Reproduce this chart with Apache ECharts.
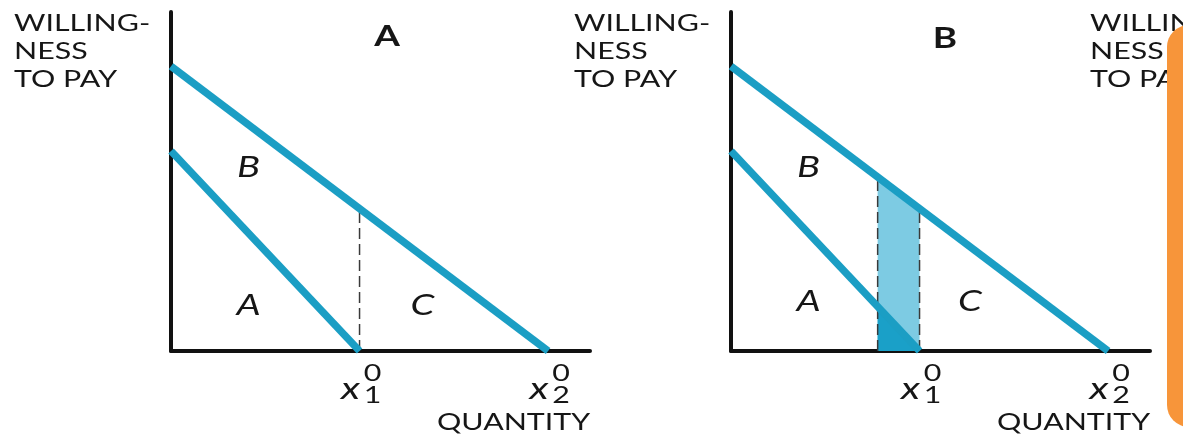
<!DOCTYPE html>
<html>
<head>
<meta charset="utf-8">
<script src="https://cdn.jsdelivr.net/npm/echarts@6/dist/echarts.min.js"></script>
<style>
  html, body { margin: 0; padding: 0; background: #fff; }
  #main { width: 1183px; height: 440px; }
</style>
</head>
<body>
<div id="main"></div>
<script>
// demand curves: [price intercept, quantity intercept]
var demand1 = [59, 45];
var demand2 = [84, 90];
// quantities labelled on the x axis: [quantity, subscript]
var xTicks = [[45, 1], [90, 2]];
// the shaded strip in panel B
var strip = [35, 45];
// area letters per panel: [x, y, letter]
var lettersA = [[18.5, 54, 'B'], [18.5, 13.5, 'A'], [60, 13.5, 'C']];
var lettersB = [[18.5, 54, 'B'], [18.5, 14.5, 'A'], [57, 14.5, 'C']];
var panelNames = ['A', 'B'];
var yName = 'WILLING-\nNESS\nTO PAY';
var xName = 'QUANTITY';

var lineColor = '#1b9ec4';
var ink = '#161616';
var font = 'Lato';
var stretch = 1.32;   // the source picture is widened horizontally

function priceAt(d, q) {
    return d[0] * (1 - q / d[1]);
}
function curve(d) {
    return [[0, d[0]], [d[1], 0]];
}

var axisLine = {show: true, onZero: false, lineStyle: {color: '#111', width: 4}};

function makeAxis(i) {
    return {
        gridIndex: i, type: 'value', min: 0, max: 100,
        axisLine: axisLine, axisTick: {show: false},
        axisLabel: {show: false}, splitLine: {show: false}
    };
}

function demandLine(i, d) {
    return {
        type: 'line', xAxisIndex: i, yAxisIndex: i, data: curve(d),
        symbol: 'none', z: 5, silent: true,
        lineStyle: {color: lineColor, width: 7.5}
    };
}

function dashed(i, q) {
    return {
        type: 'line', xAxisIndex: i, yAxisIndex: i,
        data: [[q, 0], [q, priceAt(demand2, q)]],
        symbol: 'none', z: 3, silent: true,
        lineStyle: {color: '#3a3a3a', width: 1.5, type: [11, 5]}
    };
}

function txt(x, y, s, f, align, vAlign, extra) {
    var el = {
        type: 'text', x: x, y: y, scaleX: stretch,
        style: {text: s, font: f, fill: ink, align: align, verticalAlign: vAlign}
    };
    if (extra) { for (var k in extra) el.style[k] = extra[k]; }
    return el;
}

function letters(i, list) {
    return {
        type: 'custom', xAxisIndex: i, yAxisIndex: i, data: list, silent: true, z: 6,
        renderItem: function (params, api) {
            var p = api.coord([api.value(0), api.value(1)]);
            return txt(p[0], p[1], list[params.dataIndex][2], 'italic 29px ' + font, 'center', 'middle');
        }
    };
}

function tickLabels(i) {
    return {
        type: 'custom', xAxisIndex: i, yAxisIndex: i, data: xTicks, silent: true,
        renderItem: function (params, api) {
            var p = api.coord([api.value(0), 0]);
            return {
                type: 'group',
                children: [
                    txt(p[0] - 9, p[1] + 38, 'x', 'italic 31px ' + font, 'center', 'middle'),
                    txt(p[0] + 13, p[1] + 23, '0', '23px ' + font, 'center', 'middle'),
                    txt(p[0] + 13, p[1] + 45, String(api.value(1)), '23px ' + font, 'center', 'middle')
                ]
            };
        }
    };
}

var stripTop = strip.map(function (q) { return [q, priceAt(demand2, q)]; });
var stripLow = [[strip[0], priceAt(demand1, strip[0])], [strip[1], 0]];

var labelFont = '23px ' + font;
var option = {
    backgroundColor: '#fff',
    animation: false,
    grid: [
        {left: 171, top: 12, width: 419, height: 339},
        {left: 731, top: 12, width: 419, height: 339}
    ],
    xAxis: [makeAxis(0), makeAxis(1)],
    yAxis: [makeAxis(0), makeAxis(1)],
    graphic: [
        txt(14, 10, yName, labelFont, 'left', 'top', {lineHeight: 28}),
        txt(574, 10, yName, labelFont, 'left', 'top', {lineHeight: 28}),
        txt(1090, 10, yName, labelFont, 'left', 'top', {lineHeight: 28}),
        txt(387, 37, panelNames[0], 'bold 28px ' + font, 'center', 'middle'),
        txt(945, 39, panelNames[1], 'bold 28px ' + font, 'center', 'middle'),
        txt(437, 411, xName, labelFont, 'left', 'top'),
        txt(997, 411, xName, labelFont, 'left', 'top'),
        {
            type: 'rect', z: 100,
            shape: {x: 1167, y: 25, width: 60, height: 402, r: 22},
            style: {fill: '#f7953a'}
        }
    ],
    series: [
        demandLine(0, demand1), demandLine(0, demand2),
        dashed(0, demand1[1]),
        letters(0, lettersA), tickLabels(0),

        {
            type: 'line', xAxisIndex: 1, yAxisIndex: 1, data: stripTop,
            symbol: 'none', z: 1, silent: true,
            lineStyle: {width: 0}, areaStyle: {color: '#7dcbe3', opacity: 1}
        },
        {
            type: 'line', xAxisIndex: 1, yAxisIndex: 1, data: stripLow,
            symbol: 'none', z: 2, silent: true,
            lineStyle: {width: 0}, areaStyle: {color: '#1aa0c8', opacity: 1}
        },
        demandLine(1, demand1), demandLine(1, demand2),
        dashed(1, strip[0]), dashed(1, strip[1]),
        letters(1, lettersB), tickLabels(1)
    ]
};

var myChart = echarts.init(document.getElementById('main'));
myChart.setOption(option);
</script>
</body>
</html>
